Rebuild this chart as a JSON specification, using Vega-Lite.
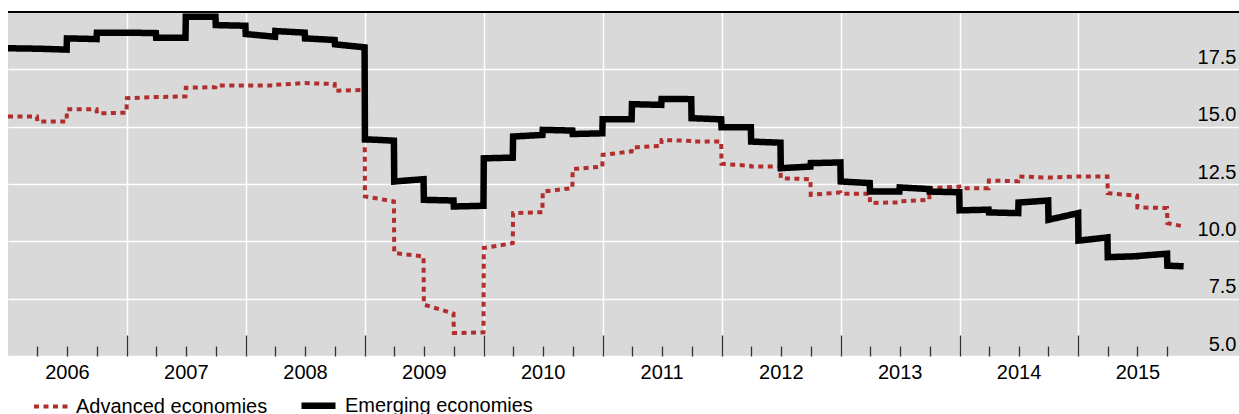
{
  "$schema": "https://vega.github.io/schema/vega-lite/v6.json",
  "width": 1231,
  "height": 344,
  "autosize": {"type": "none"},
  "padding": {"left": 8, "top": 12, "right": 0, "bottom": 58},
  "background": "white",
  "config": {"font": "Liberation Sans", "view": {"fill": "#d9d9d9", "stroke": null}},
  "data": {"values": [
    {"date": "2006-01-01", "series": "Advanced economies", "value": 15.44},
    {"date": "2006-03-31", "series": "Advanced economies", "value": 15.44},
    {"date": "2006-04-01", "series": "Advanced economies", "value": 15.22},
    {"date": "2006-06-30", "series": "Advanced economies", "value": 15.22},
    {"date": "2006-07-01", "series": "Advanced economies", "value": 15.76},
    {"date": "2006-09-30", "series": "Advanced economies", "value": 15.76},
    {"date": "2006-10-01", "series": "Advanced economies", "value": 15.58},
    {"date": "2006-12-31", "series": "Advanced economies", "value": 15.61},
    {"date": "2007-01-01", "series": "Advanced economies", "value": 16.24},
    {"date": "2007-03-31", "series": "Advanced economies", "value": 16.29},
    {"date": "2007-04-01", "series": "Advanced economies", "value": 16.29},
    {"date": "2007-06-30", "series": "Advanced economies", "value": 16.32},
    {"date": "2007-07-01", "series": "Advanced economies", "value": 16.70},
    {"date": "2007-09-30", "series": "Advanced economies", "value": 16.72},
    {"date": "2007-10-01", "series": "Advanced economies", "value": 16.80},
    {"date": "2007-12-31", "series": "Advanced economies", "value": 16.80},
    {"date": "2008-01-01", "series": "Advanced economies", "value": 16.79},
    {"date": "2008-03-31", "series": "Advanced economies", "value": 16.79},
    {"date": "2008-04-01", "series": "Advanced economies", "value": 16.82},
    {"date": "2008-06-30", "series": "Advanced economies", "value": 16.90},
    {"date": "2008-07-01", "series": "Advanced economies", "value": 16.90},
    {"date": "2008-09-30", "series": "Advanced economies", "value": 16.86},
    {"date": "2008-10-01", "series": "Advanced economies", "value": 16.57},
    {"date": "2008-12-31", "series": "Advanced economies", "value": 16.60},
    {"date": "2009-01-01", "series": "Advanced economies", "value": 11.96},
    {"date": "2009-03-31", "series": "Advanced economies", "value": 11.74},
    {"date": "2009-04-01", "series": "Advanced economies", "value": 9.49},
    {"date": "2009-06-30", "series": "Advanced economies", "value": 9.34},
    {"date": "2009-07-01", "series": "Advanced economies", "value": 7.24},
    {"date": "2009-09-30", "series": "Advanced economies", "value": 6.85},
    {"date": "2009-10-01", "series": "Advanced economies", "value": 6.00},
    {"date": "2009-12-31", "series": "Advanced economies", "value": 6.03},
    {"date": "2010-01-01", "series": "Advanced economies", "value": 9.71},
    {"date": "2010-03-31", "series": "Advanced economies", "value": 9.92},
    {"date": "2010-04-01", "series": "Advanced economies", "value": 11.23},
    {"date": "2010-06-30", "series": "Advanced economies", "value": 11.27},
    {"date": "2010-07-01", "series": "Advanced economies", "value": 12.17},
    {"date": "2010-09-30", "series": "Advanced economies", "value": 12.32},
    {"date": "2010-10-01", "series": "Advanced economies", "value": 13.15},
    {"date": "2010-12-31", "series": "Advanced economies", "value": 13.26},
    {"date": "2011-01-01", "series": "Advanced economies", "value": 13.77},
    {"date": "2011-03-31", "series": "Advanced economies", "value": 13.92},
    {"date": "2011-04-01", "series": "Advanced economies", "value": 14.09},
    {"date": "2011-06-30", "series": "Advanced economies", "value": 14.16},
    {"date": "2011-07-01", "series": "Advanced economies", "value": 14.42},
    {"date": "2011-09-30", "series": "Advanced economies", "value": 14.38},
    {"date": "2011-10-01", "series": "Advanced economies", "value": 14.35},
    {"date": "2011-12-31", "series": "Advanced economies", "value": 14.35},
    {"date": "2012-01-01", "series": "Advanced economies", "value": 13.38},
    {"date": "2012-03-31", "series": "Advanced economies", "value": 13.29},
    {"date": "2012-04-01", "series": "Advanced economies", "value": 13.26},
    {"date": "2012-06-30", "series": "Advanced economies", "value": 13.26},
    {"date": "2012-07-01", "series": "Advanced economies", "value": 12.75},
    {"date": "2012-09-30", "series": "Advanced economies", "value": 12.71},
    {"date": "2012-10-01", "series": "Advanced economies", "value": 12.03},
    {"date": "2012-12-31", "series": "Advanced economies", "value": 12.13},
    {"date": "2013-01-01", "series": "Advanced economies", "value": 12.07},
    {"date": "2013-03-31", "series": "Advanced economies", "value": 12.07},
    {"date": "2013-04-01", "series": "Advanced economies", "value": 11.67},
    {"date": "2013-06-30", "series": "Advanced economies", "value": 11.70},
    {"date": "2013-07-01", "series": "Advanced economies", "value": 11.74},
    {"date": "2013-09-30", "series": "Advanced economies", "value": 11.81},
    {"date": "2013-10-01", "series": "Advanced economies", "value": 12.32},
    {"date": "2013-12-31", "series": "Advanced economies", "value": 12.39},
    {"date": "2014-01-01", "series": "Advanced economies", "value": 12.32},
    {"date": "2014-03-31", "series": "Advanced economies", "value": 12.32},
    {"date": "2014-04-01", "series": "Advanced economies", "value": 12.65},
    {"date": "2014-06-30", "series": "Advanced economies", "value": 12.62},
    {"date": "2014-07-01", "series": "Advanced economies", "value": 12.83},
    {"date": "2014-09-30", "series": "Advanced economies", "value": 12.78},
    {"date": "2014-10-01", "series": "Advanced economies", "value": 12.78},
    {"date": "2014-12-31", "series": "Advanced economies", "value": 12.83},
    {"date": "2015-01-01", "series": "Advanced economies", "value": 12.83},
    {"date": "2015-03-31", "series": "Advanced economies", "value": 12.83},
    {"date": "2015-04-01", "series": "Advanced economies", "value": 12.10},
    {"date": "2015-06-30", "series": "Advanced economies", "value": 11.99},
    {"date": "2015-07-01", "series": "Advanced economies", "value": 11.48},
    {"date": "2015-09-30", "series": "Advanced economies", "value": 11.45},
    {"date": "2015-10-01", "series": "Advanced economies", "value": 10.79},
    {"date": "2015-11-20", "series": "Advanced economies", "value": 10.65},
    {"date": "2006-01-01", "series": "Emerging economies", "value": 18.42},
    {"date": "2006-03-31", "series": "Emerging economies", "value": 18.40},
    {"date": "2006-04-01", "series": "Emerging economies", "value": 18.40},
    {"date": "2006-06-30", "series": "Emerging economies", "value": 18.36},
    {"date": "2006-07-01", "series": "Emerging economies", "value": 18.85},
    {"date": "2006-09-30", "series": "Emerging economies", "value": 18.82},
    {"date": "2006-10-01", "series": "Emerging economies", "value": 19.10},
    {"date": "2006-12-31", "series": "Emerging economies", "value": 19.10},
    {"date": "2007-01-01", "series": "Emerging economies", "value": 19.10},
    {"date": "2007-03-31", "series": "Emerging economies", "value": 19.08},
    {"date": "2007-04-01", "series": "Emerging economies", "value": 18.88},
    {"date": "2007-06-30", "series": "Emerging economies", "value": 18.88},
    {"date": "2007-07-01", "series": "Emerging economies", "value": 19.79},
    {"date": "2007-09-30", "series": "Emerging economies", "value": 19.79},
    {"date": "2007-10-01", "series": "Emerging economies", "value": 19.43},
    {"date": "2007-12-31", "series": "Emerging economies", "value": 19.40},
    {"date": "2008-01-01", "series": "Emerging economies", "value": 19.04},
    {"date": "2008-03-31", "series": "Emerging economies", "value": 18.92},
    {"date": "2008-04-01", "series": "Emerging economies", "value": 19.17},
    {"date": "2008-06-30", "series": "Emerging economies", "value": 19.10},
    {"date": "2008-07-01", "series": "Emerging economies", "value": 18.85},
    {"date": "2008-09-30", "series": "Emerging economies", "value": 18.78},
    {"date": "2008-10-01", "series": "Emerging economies", "value": 18.59},
    {"date": "2008-12-31", "series": "Emerging economies", "value": 18.46},
    {"date": "2009-01-01", "series": "Emerging economies", "value": 14.45},
    {"date": "2009-03-31", "series": "Emerging economies", "value": 14.39},
    {"date": "2009-04-01", "series": "Emerging economies", "value": 12.61},
    {"date": "2009-06-30", "series": "Emerging economies", "value": 12.71},
    {"date": "2009-07-01", "series": "Emerging economies", "value": 11.81},
    {"date": "2009-09-30", "series": "Emerging economies", "value": 11.78},
    {"date": "2009-10-01", "series": "Emerging economies", "value": 11.52},
    {"date": "2009-12-31", "series": "Emerging economies", "value": 11.55},
    {"date": "2010-01-01", "series": "Emerging economies", "value": 13.62},
    {"date": "2010-03-31", "series": "Emerging economies", "value": 13.65},
    {"date": "2010-04-01", "series": "Emerging economies", "value": 14.57},
    {"date": "2010-06-30", "series": "Emerging economies", "value": 14.64},
    {"date": "2010-07-01", "series": "Emerging economies", "value": 14.86},
    {"date": "2010-09-30", "series": "Emerging economies", "value": 14.83},
    {"date": "2010-10-01", "series": "Emerging economies", "value": 14.68},
    {"date": "2010-12-31", "series": "Emerging economies", "value": 14.71},
    {"date": "2011-01-01", "series": "Emerging economies", "value": 15.32},
    {"date": "2011-03-31", "series": "Emerging economies", "value": 15.32},
    {"date": "2011-04-01", "series": "Emerging economies", "value": 15.98},
    {"date": "2011-06-30", "series": "Emerging economies", "value": 15.95},
    {"date": "2011-07-01", "series": "Emerging economies", "value": 16.21},
    {"date": "2011-09-30", "series": "Emerging economies", "value": 16.20},
    {"date": "2011-10-01", "series": "Emerging economies", "value": 15.37},
    {"date": "2011-12-31", "series": "Emerging economies", "value": 15.32},
    {"date": "2012-01-01", "series": "Emerging economies", "value": 14.97},
    {"date": "2012-03-31", "series": "Emerging economies", "value": 14.97},
    {"date": "2012-04-01", "series": "Emerging economies", "value": 14.35},
    {"date": "2012-06-30", "series": "Emerging economies", "value": 14.30},
    {"date": "2012-07-01", "series": "Emerging economies", "value": 13.19},
    {"date": "2012-09-30", "series": "Emerging economies", "value": 13.26},
    {"date": "2012-10-01", "series": "Emerging economies", "value": 13.41},
    {"date": "2012-12-31", "series": "Emerging economies", "value": 13.44},
    {"date": "2013-01-01", "series": "Emerging economies", "value": 12.61},
    {"date": "2013-03-31", "series": "Emerging economies", "value": 12.54},
    {"date": "2013-04-01", "series": "Emerging economies", "value": 12.17},
    {"date": "2013-06-30", "series": "Emerging economies", "value": 12.17},
    {"date": "2013-07-01", "series": "Emerging economies", "value": 12.35},
    {"date": "2013-09-30", "series": "Emerging economies", "value": 12.28},
    {"date": "2013-10-01", "series": "Emerging economies", "value": 12.17},
    {"date": "2013-12-31", "series": "Emerging economies", "value": 12.14},
    {"date": "2014-01-01", "series": "Emerging economies", "value": 11.35},
    {"date": "2014-03-31", "series": "Emerging economies", "value": 11.38},
    {"date": "2014-04-01", "series": "Emerging economies", "value": 11.26},
    {"date": "2014-06-30", "series": "Emerging economies", "value": 11.23},
    {"date": "2014-07-01", "series": "Emerging economies", "value": 11.69},
    {"date": "2014-09-30", "series": "Emerging economies", "value": 11.78},
    {"date": "2014-10-01", "series": "Emerging economies", "value": 10.94},
    {"date": "2014-12-31", "series": "Emerging economies", "value": 11.23},
    {"date": "2015-01-01", "series": "Emerging economies", "value": 10.03},
    {"date": "2015-03-31", "series": "Emerging economies", "value": 10.17},
    {"date": "2015-04-01", "series": "Emerging economies", "value": 9.31},
    {"date": "2015-06-30", "series": "Emerging economies", "value": 9.35},
    {"date": "2015-07-01", "series": "Emerging economies", "value": 9.36},
    {"date": "2015-09-30", "series": "Emerging economies", "value": 9.46},
    {"date": "2015-10-01", "series": "Emerging economies", "value": 8.94},
    {"date": "2015-11-20", "series": "Emerging economies", "value": 8.91}
  ]},
  "layer": [
    {
      "mark": {"type": "line", "clip": false},
      "encoding": {
        "x": {
          "field": "date", "type": "temporal", "title": null,
          "scale": {"type": "utc", "domain": [{"year": 2006, "month": 1, "date": 1, "utc": true}, {"year": 2016, "month": 5, "date": 8, "utc": true}]},
          "axis": {
            "values": [
              {"year": 2006, "month": 4, "date": 1, "utc": true}, {"year": 2006, "month": 7, "date": 1, "utc": true}, {"year": 2006, "month": 10, "date": 1, "utc": true},
              {"year": 2007, "month": 1, "date": 1, "utc": true}, {"year": 2007, "month": 4, "date": 1, "utc": true}, {"year": 2007, "month": 7, "date": 1, "utc": true}, {"year": 2007, "month": 10, "date": 1, "utc": true},
              {"year": 2008, "month": 1, "date": 1, "utc": true}, {"year": 2008, "month": 4, "date": 1, "utc": true}, {"year": 2008, "month": 7, "date": 1, "utc": true}, {"year": 2008, "month": 10, "date": 1, "utc": true},
              {"year": 2009, "month": 1, "date": 1, "utc": true}, {"year": 2009, "month": 4, "date": 1, "utc": true}, {"year": 2009, "month": 7, "date": 1, "utc": true}, {"year": 2009, "month": 10, "date": 1, "utc": true},
              {"year": 2010, "month": 1, "date": 1, "utc": true}, {"year": 2010, "month": 4, "date": 1, "utc": true}, {"year": 2010, "month": 7, "date": 1, "utc": true}, {"year": 2010, "month": 10, "date": 1, "utc": true},
              {"year": 2011, "month": 1, "date": 1, "utc": true}, {"year": 2011, "month": 4, "date": 1, "utc": true}, {"year": 2011, "month": 7, "date": 1, "utc": true}, {"year": 2011, "month": 10, "date": 1, "utc": true},
              {"year": 2012, "month": 1, "date": 1, "utc": true}, {"year": 2012, "month": 4, "date": 1, "utc": true}, {"year": 2012, "month": 7, "date": 1, "utc": true}, {"year": 2012, "month": 10, "date": 1, "utc": true},
              {"year": 2013, "month": 1, "date": 1, "utc": true}, {"year": 2013, "month": 4, "date": 1, "utc": true}, {"year": 2013, "month": 7, "date": 1, "utc": true}, {"year": 2013, "month": 10, "date": 1, "utc": true},
              {"year": 2014, "month": 1, "date": 1, "utc": true}, {"year": 2014, "month": 4, "date": 1, "utc": true}, {"year": 2014, "month": 7, "date": 1, "utc": true}, {"year": 2014, "month": 10, "date": 1, "utc": true},
              {"year": 2015, "month": 1, "date": 1, "utc": true}, {"year": 2015, "month": 4, "date": 1, "utc": true}, {"year": 2015, "month": 7, "date": 1, "utc": true}, {"year": 2015, "month": 10, "date": 1, "utc": true}
            ],
            "labelExpr": "utcmonth(datum.value) === 6 ? utcFormat(datum.value, '%Y') : ''",
            "tickSize": {"condition": {"test": "utcmonth(datum.value) === 0", "value": -21}, "value": -10},
            "tickColor": "#333333",
            "tickWidth": 1.3,
            "grid": true,
            "gridColor": "white",
            "gridWidth": 1.5,
            "gridOpacity": {"condition": {"test": "utcmonth(datum.value) === 0", "value": 1}, "value": 0},
            "domain": false,
            "labelFontSize": 20,
            "labelColor": "black",
            "labelPadding": 16,
            "labelOverlap": false,
            "labelFlush": false,
            "labelBound": false
          }
        },
        "y": {
          "field": "value", "type": "quantitative", "title": null,
          "scale": {"domain": [5, 20], "nice": false, "zero": false},
          "axis": {
            "orient": "right", "values": [5, 7.5, 10, 12.5, 15, 17.5], "format": ".1f",
            "domain": false, "ticks": false, "grid": true, "gridColor": "white", "gridWidth": 1.5,
            "labelAlign": "right", "labelPadding": -3, "labelBaseline": "alphabetic", "labelOffset": -6,
            "labelFontSize": 20, "labelColor": "black", "labelOverlap": false, "labelFlush": false, "labelBound": false
          }
        },
        "color": {
          "field": "series", "type": "nominal", "title": null,
          "scale": {"domain": ["Advanced economies", "Emerging economies"], "range": ["#b22e2e", "#000000"]},
          "legend": {"orient": "none", "legendX": 24, "legendY": 373, "direction": "horizontal", "title": null, "symbolType": "stroke", "symbolSize": 1156, "labelFontSize": 20, "labelColor": "black", "columnPadding": 20, "labelOffset": 6, "padding": 0, "labelLimit": 400}
        },
        "strokeDash": {
          "field": "series", "type": "nominal", "title": null,
          "scale": {"domain": ["Advanced economies", "Emerging economies"], "range": [[5, 4.5], [1, 0]]},
          "legend": {"orient": "none", "legendX": 24, "legendY": 373, "direction": "horizontal", "title": null, "symbolType": "stroke", "symbolSize": 1156, "labelFontSize": 20, "labelColor": "black", "columnPadding": 20, "labelOffset": 6, "padding": 0, "labelLimit": 400}
        },
        "strokeWidth": {
          "field": "series", "type": "ordinal", "title": null,
          "scale": {"domain": ["Advanced economies", "Emerging economies"], "range": [4, 6.5]},
          "legend": {"orient": "none", "legendX": 24, "legendY": 373, "direction": "horizontal", "title": null, "symbolType": "stroke", "symbolSize": 1156, "labelFontSize": 20, "labelColor": "black", "columnPadding": 20, "labelOffset": 6, "padding": 0, "labelLimit": 400}
        }
      }
    },
    {
      "mark": {"type": "rule", "color": "black", "strokeWidth": 1.6},
      "encoding": {"y": {"datum": 20, "type": "quantitative"}}
    }
  ]
}
